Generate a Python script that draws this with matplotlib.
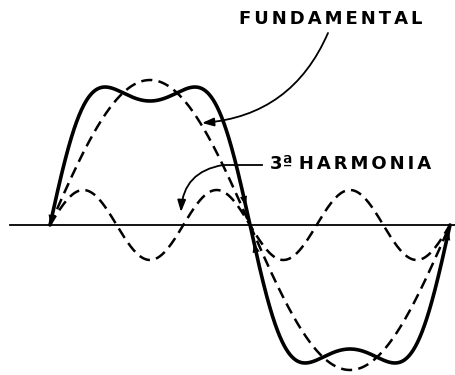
import numpy as np
import matplotlib
matplotlib.use("Agg")
import matplotlib.pyplot as plt

plt.rcParams['lines.scale_dashes'] = False

# ---- data (degrees / amplitude units) ----
fund_amp = 145          # dashed fundamental amplitude
harm_order = 3
harm_amp = 35           # dashed 3rd harmonic amplitude
result_orders = [1, 3, 5]
result_amps = [159, 38, 3]   # solid resultant wave components
label_fund = "FUNDAMENTAL"
label_harm_num = "3ª"
label_harm_word = "HARMONIA"
axis_range = [-36, 365]

theta = np.linspace(0, 360, 1441)
rad = np.deg2rad(theta)
fund = fund_amp * np.sin(rad)
harm = harm_amp * np.sin(harm_order * rad)
result = sum(a * np.sin(k * rad) for k, a in zip(result_orders, result_amps))

fig = plt.figure(figsize=(4.56, 3.75), dpi=100)
ax = fig.add_axes([0, 0, 1, 1])
ax.set_xlim(-45, 365.4)
ax.set_ylim(-150, 225)
ax.axis('off')

ax.plot(axis_range, [0, 0], color='black', lw=1.3)
ax.plot(theta, fund, color='black', lw=1.8, dashes=(8, 4.5))
ax.plot(theta, harm, color='black', lw=1.8, dashes=(8, 4.5))
ax.plot(theta, result, color='black', lw=2.6, solid_capstyle='round')

# small arrowheads on the resultant at zero crossings
def head(i_tip, i_back):
    ax.annotate('', xy=(theta[i_tip], result[i_tip]),
                xytext=(theta[i_back], result[i_back]),
                arrowprops=dict(arrowstyle='-|>,head_length=0.7,head_width=0.25',
                                color='black', lw=0.1, shrinkA=0, shrinkB=0),
                zorder=5)

n = len(theta) - 1
head(0, 12)
head(int(n * 0.49), int(n * 0.47))
head(int(n * 0.51), int(n * 0.53))
head(n - 4, n - 16)

tfont = dict(fontsize=13, fontweight='bold', family='DejaVu Sans')
sp = "\u2006"
ax.text(252.9, 206, sp.join(label_fund), ha='center', va='center', **tfont)
ax.text(198, 61, label_harm_num + " " + sp.join(label_harm_word),
        ha='left', va='center', **tfont)

# leader from FUNDAMENTAL
ax.annotate('', xy=(136.8, 102), xytext=(250.2, 192),
            arrowprops=dict(arrowstyle='-|>,head_length=0.7,head_width=0.25',
                            color='black', lw=1.3, shrinkA=0, shrinkB=0,
                            connectionstyle='arc3,rad=-0.3'))
# leader from 3a HARMONIA
ax.plot([190.8, 155.7], [60, 60], color='black', lw=1.3)
ax.annotate('', xy=(117.9, 13), xytext=(155.7, 60),
            arrowprops=dict(arrowstyle='-|>,head_length=0.7,head_width=0.25',
                            color='black', lw=1.3, shrinkA=0, shrinkB=0,
                            connectionstyle='arc3,rad=0.4'))

fig.savefig('out.png', dpi=100, facecolor='white')
